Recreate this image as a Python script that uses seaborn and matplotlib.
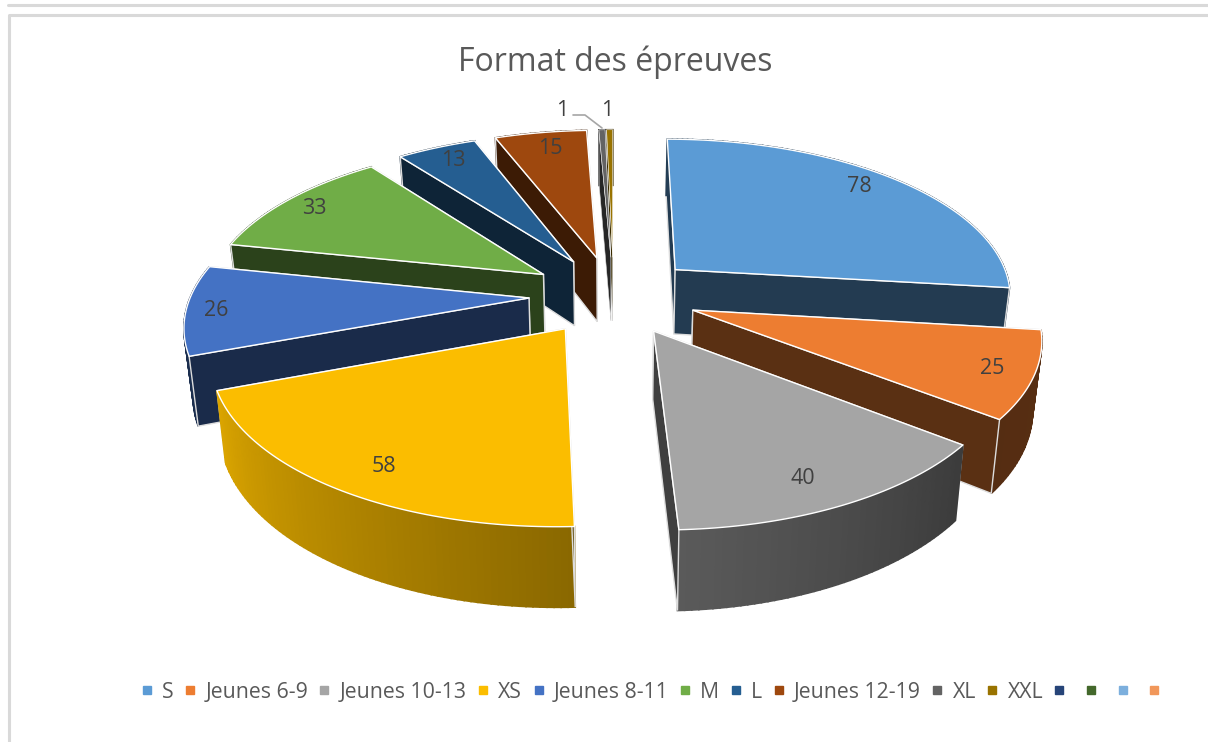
import numpy as np
import matplotlib
matplotlib.use("Agg")
import matplotlib.pyplot as plt
from matplotlib.lines import Line2D
from matplotlib.patches import Polygon
import seaborn as sns

# DATA
title = "Format des épreuves"
categories = ["S", "Jeunes 6-9", "Jeunes 10-13", "XS", "Jeunes 8-11", "M", "L", "Jeunes 12-19", "XL", "XXL"]
values = [78, 25, 40, 58, 26, 33, 13, 15, 1, 1]
empty_legend = ["", "", "", ""]

colors = ["#5B9BD5", "#ED7D31", "#A5A5A5", "#FBBD00", "#4472C4", "#70AD47", "#255E91", "#9E480E", "#636363", "#997300"]
empty_colors = ["#264478", "#43682B", "#7CAFDD", "#F1975A"]

# pixel spots of the data labels, same order as values
label_xy = [(859, 186), (992, 369), (803, 478), (384, 466), (216, 310), (314, 209), (453, 160), (550, 149), (562, 110), (607, 110)]

# projection of the tilted pie
cx, cy = 613.5, 295
rx, ry = 338, 157
persp = 0.15
height = 66
taper = 0.022
explode = 0.25


def project(x, y, z=0):
    w = 1 + persp * y
    return cx + rx * x / (w * (1 + taper * z)), cy - ry * y / w + height * z / w


def darken(col, f):
    return tuple(c * f for c in matplotlib.colors.to_rgb(col))


def rim_shade(deg):
    return np.interp(deg, [0, 128, 178, 249.5, 250, 360], [0.4, 0.36, 0.55, 0.87, 0.4, 0.4])


def draw_slice(ax, start, end, col, lw):
    mid = np.radians((start + end) / 2)
    ox, oy = explode * np.sin(mid), explode * np.cos(mid)
    deg = np.linspace(start, end, max(int(end - start), 1) + 1)
    th = np.radians(deg)
    xs, ys = ox + np.sin(th), oy + np.cos(th)

    def cut_face(i):
        pts = [project(ox, oy), project(xs[i], ys[i]), project(xs[i], ys[i], 1), project(ox, oy, 1)]
        ax.add_patch(Polygon(pts, fc=darken(col, 0.38), ec="#dddddd", lw=lw))

    # far cut face goes first, near one after the outer wall
    far, near = (0, -1) if ys[0] > ys[-1] else (-1, 0)
    cut_face(far)

    # outer wall, small quads for the gradient
    for j in range(len(th) - 1):
        pts = [project(xs[j], ys[j]), project(xs[j + 1], ys[j + 1]),
               project(xs[j + 1], ys[j + 1], 1), project(xs[j], ys[j], 1)]
        c = darken(col, rim_shade((deg[j] + deg[j + 1]) / 2))
        ax.add_patch(Polygon(pts, fc=c, ec=c, lw=1.2))

    cut_face(near)

    # top face
    top = [project(ox, oy)] + [project(a, b) for a, b in zip(xs, ys)]
    ax.add_patch(Polygon(top, fc=col, ec="white", lw=lw, joinstyle="round"))


sns.set_theme(style="white")
plt.rcParams["font.family"] = ["Open Sans", "DejaVu Sans"]
palette = sns.color_palette(colors)

fig = plt.figure(figsize=(12.08, 7.42), dpi=100)
ax = fig.add_axes([0, 0, 1, 1])
ax.set_xlim(0, 1208)
ax.set_ylim(742, 0)
ax.axis("off")

# card border
ax.plot([8, 1208], [5, 5], color="#d9d9d9", lw=2.2)
ax.plot([1208, 9, 9], [15, 15, 742], color="#d9d9d9", lw=2.2)

# slices, far ones first
edges = np.cumsum([0] + values) / sum(values) * 360
mids = (edges[:-1] + edges[1:]) / 2
order = np.argsort(-np.cos(np.radians(mids)))
for i in order:
    lw = 1.0 if values[i] > 1 else 0.4
    draw_slice(ax, edges[i], edges[i + 1], palette[i], lw)

# labels
for v, (lx, ly) in zip(values, label_xy):
    ax.text(lx, ly, str(v), ha="center", va="center", fontsize=15.5, color="#404040", zorder=5)
ax.plot([573, 585, 602], [115, 115, 128], color="#a6a6a6", lw=1.2, zorder=5)

ax.text(615, 62, title, ha="center", va="center", fontsize=23, color="#595959")

# legend
handles = [Line2D([], [], ls="", marker="s", ms=6, color=c) for c in list(palette) + empty_colors]
ax.legend(handles, categories + empty_legend, ncol=14, loc="center", bbox_to_anchor=(655 / 1208, 1 - 692 / 742),
          frameon=False, fontsize=15.3, labelcolor="#595959", handlelength=0.6, handletextpad=0.42,
          columnspacing=0.47, borderpad=0)

plt.savefig("out.png", dpi=100)
